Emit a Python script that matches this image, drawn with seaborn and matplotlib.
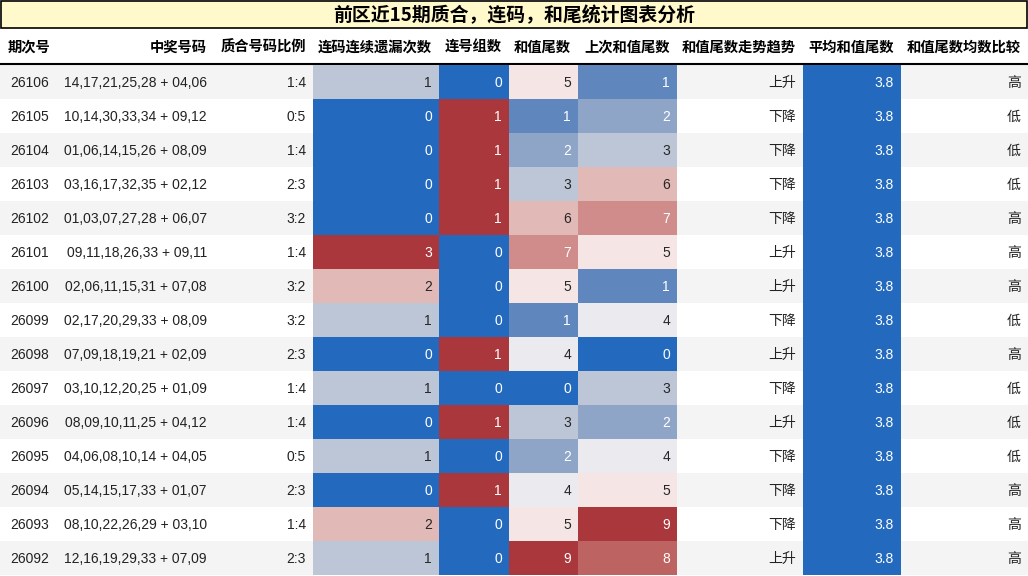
import numpy as np
import pandas as pd
import matplotlib
matplotlib.use('Agg')
import matplotlib.pyplot as plt
from matplotlib.patches import Rectangle
import seaborn as sns

# ============================================================
# DATA
# ============================================================
issues = [26106, 26105, 26104, 26103, 26102, 26101, 26100, 26099,
          26098, 26097, 26096, 26095, 26094, 26093, 26092]
numbers = [
    '14,17,21,25,28 + 04,06', '10,14,30,33,34 + 09,12', '01,06,14,15,26 + 08,09',
    '03,16,17,32,35 + 02,12', '01,03,07,27,28 + 06,07', '09,11,18,26,33 + 09,11',
    '02,06,11,15,31 + 07,08', '02,17,20,29,33 + 08,09', '07,09,18,19,21 + 02,09',
    '03,10,12,20,25 + 01,09', '08,09,10,11,25 + 04,12', '04,06,08,10,14 + 04,05',
    '05,14,15,17,33 + 01,07', '08,10,22,26,29 + 03,10', '12,16,19,29,33 + 07,09',
]
ratio = ['1:4', '0:5', '1:4', '2:3', '3:2', '1:4', '3:2', '3:2',
         '2:3', '1:4', '1:4', '0:5', '2:3', '1:4', '2:3']
miss = [1, 0, 0, 0, 0, 3, 2, 1, 0, 1, 0, 1, 0, 2, 1]
groups = [0, 1, 1, 1, 1, 0, 0, 0, 1, 0, 1, 0, 1, 0, 0]
tail = [5, 1, 2, 3, 6, 7, 5, 1, 4, 0, 3, 2, 4, 5, 9]
prev_tail = [1, 2, 3, 6, 7, 5, 1, 4, 0, 3, 2, 4, 5, 9, 8]
trend = ['上升', '下降', '下降', '下降', '下降', '上升', '上升', '下降',
         '上升', '下降', '上升', '下降', '下降', '下降', '上升']
avg_tail = [3.8] * 15
compare = ['高', '低', '低', '低', '高', '高', '高', '低',
           '高', '低', '低', '低', '高', '高', '高']

headers = ['期次号', '中奖号码', '质合号码比例', '连码连续遗漏次数', '连号组数',
           '和值尾数', '上次和值尾数', '和值尾数走势趋势', '平均和值尾数', '和值尾数均数比较']
title = '前区近15期质合，连码，和尾统计图表分析'

df = pd.DataFrame({
    headers[0]: issues, headers[1]: numbers, headers[2]: ratio,
    headers[3]: miss, headers[4]: groups, headers[5]: tail,
    headers[6]: prev_tail, headers[7]: trend, headers[8]: avg_tail,
    headers[9]: compare,
})
heat_cols = {headers[3]: 'd', headers[4]: 'd', headers[5]: 'd',
             headers[6]: 'd', headers[8]: '.1f'}

# ============================================================
# LAYOUT (pixels)
# ============================================================
W, H = 1028, 576
COL_EDGES = [0, 56, 214, 313, 439, 509, 578, 677, 803, 901, 1028]
ROW_TOP = 65
ROW_H = 34
PAD = 7
TEXT_C = '#222222'
FS = 10

sns.set_theme(style='white')
plt.rcParams['font.family'] = ['Liberation Sans', 'Noto Sans CJK SC', 'DejaVu Sans']

fig = plt.figure(figsize=(W / 100, H / 100), dpi=100)
ax = fig.add_axes([0, 0, 1, 1])
ax.set_xlim(0, W)
ax.set_ylim(H, 0)
ax.axis('off')

# title box
ax.add_patch(Rectangle((0.5, 1), W - 2, 27, facecolor='#FFF9CC',
                       edgecolor='black', linewidth=1.2))
ax.text(W / 2, 15.5, title, ha='center', va='center', fontsize=13.6,
        fontweight='heavy', family=['Noto Sans CJK SC'], color='black')

# header
for j, h in enumerate(headers):
    x_right = COL_EDGES[j + 1] - PAD
    if j == 0:
        ax.text(8, 47.5, h, ha='left', va='center', fontsize=10.3,
                fontweight='bold', family=['Noto Sans CJK SC'], color='black')
    else:
        ax.text(x_right, 47.5, h, ha='right', va='center', fontsize=10.3,
                fontweight='bold', family=['Noto Sans CJK SC'], color='black')
ax.plot([0, W], [64, 64], color='black', linewidth=1.5)

# striped rows
n = len(df)
for i in range(n):
    y0 = ROW_TOP + i * ROW_H
    if i % 2 == 0:
        ax.add_patch(Rectangle((0, y0), W, ROW_H, facecolor='#F4F4F4',
                               edgecolor='none', zorder=0))

# plain text columns
for j, col in enumerate(headers):
    if col in heat_cols:
        continue
    x_right = COL_EDGES[j + 1] - PAD
    for i, v in enumerate(df[col]):
        yc = ROW_TOP + i * ROW_H + ROW_H / 2 + 1
        ax.text(x_right, yc, str(v), ha='right', va='center',
                fontsize=FS, color=TEXT_C)

# heatmap columns
cmap = sns.color_palette('vlag', as_cmap=True)
for j, col in enumerate(headers):
    if col not in heat_cols:
        continue
    x0, x1 = COL_EDGES[j], COL_EDGES[j + 1]
    w = x1 - x0
    hax = fig.add_axes([x0 / W, (H - ROW_TOP - n * ROW_H) / H,
                        w / W, n * ROW_H / H])
    vals = df[[col]]
    vmin, vmax = vals.values.min(), vals.values.max()
    if vmax == vmin:
        vmax = vmin + 1
    sns.heatmap(vals, ax=hax, cmap=cmap, vmin=vmin, vmax=vmax, cbar=False,
                annot=True, fmt=heat_cols[col], xticklabels=False,
                yticklabels=False, annot_kws={'fontsize': FS})
    for t in hax.texts:
        t.set_horizontalalignment('right')
        t.set_x(1 - PAD / w)
        t.set_y(t.get_position()[1] + 1 / ROW_H)
    hax.set_xlabel('')
    hax.set_ylabel('')

fig.savefig('out.png', dpi=100)
